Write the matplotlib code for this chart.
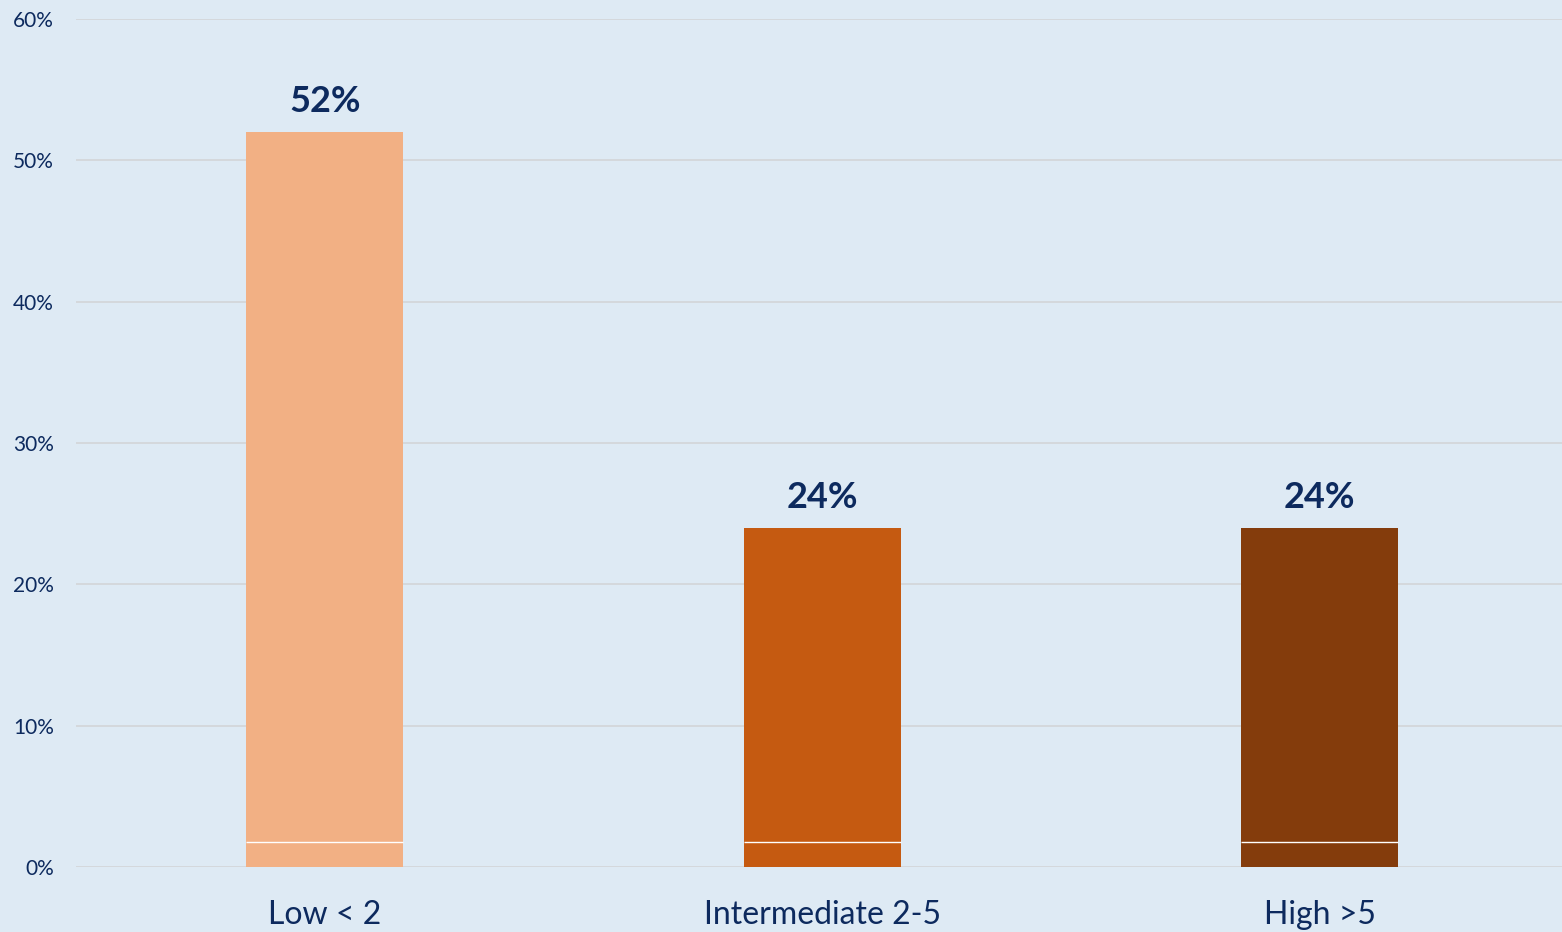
import numpy as np
import matplotlib.pyplot as plt

categories = ["Low < 2", "Intermediate 2-5", "High >5"]
values = [52, 24, 24]
split = [1.8, 1.8, 1.8]  # thin white divider near bar bottom
colors = ["#F2B084", "#C55A11", "#843C0C"]
yticks = [0, 10, 20, 30, 40, 50, 60]

bg = "#DEEAF4"
navy = "#0D2A5E"
plt.rcParams['font.family'] = ['Lato', 'DejaVu Sans']

fig = plt.figure(figsize=(15.62, 9.32), dpi=100, facecolor=bg)
ax = fig.add_axes([76 / 1562, 1 - 867 / 932, 1 - 76 / 1562, (867 - 19) / 932])
ax.set_facecolor(bg)

x = np.arange(len(categories))
w = 0.316
ax.bar(x, values, width=w, color=colors, zorder=3)
ax.hlines(split, x - w / 2, x + w / 2, color="white", lw=1, zorder=4)

for xi, v in zip(x, values):
    ax.annotate(f"{v}%", (xi, v), xytext=(0, 10), textcoords="offset points",
                ha="center", va="bottom", fontsize=26, fontweight="bold", color=navy)

ax.set_xlim(-0.5, 2.487)
ax.set_ylim(0, 60)
ax.set_yticks(yticks)
ax.set_yticklabels([f"{t}%" for t in yticks], fontsize=15, color=navy)
ax.set_xticks(x)
ax.set_xticklabels(categories, fontsize=23, color=navy)
ax.tick_params(axis="both", length=0)
ax.tick_params(axis="y", pad=16)
ax.tick_params(axis="x", pad=24)
ax.grid(axis="y", color="#D4D7DA", lw=1.3, zorder=0)
for s in ax.spines.values():
    s.set_visible(False)

fig.savefig("out.png", dpi=100, facecolor=bg)
